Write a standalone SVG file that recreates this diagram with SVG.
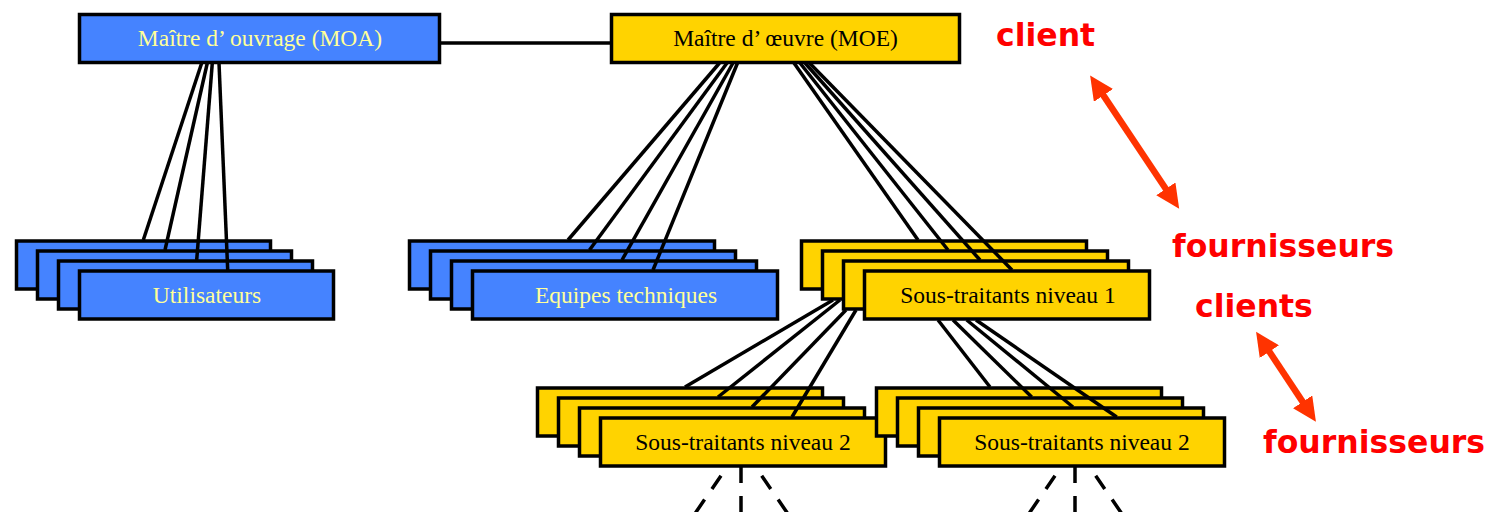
<svg xmlns="http://www.w3.org/2000/svg" width="1499" height="512" viewBox="0 0 1499 512">
<style>
.blue{fill:#4583FF;stroke:#000;stroke-width:3.5}
.yel{fill:#FFD300;stroke:#000;stroke-width:3.5}
.tb{font-family:"Liberation Serif",serif;font-size:23.5px;fill:#FFFF99;text-anchor:middle}
.ty{font-family:"Liberation Serif",serif;font-size:23.5px;fill:#000;text-anchor:middle}
.red{font-family:"DejaVu Sans",Verdana,sans-serif;font-weight:bold;font-size:31.5px;fill:#FF0000}
.ln{stroke:#000;stroke-width:3.5;fill:none}
.dash{stroke:#000;stroke-width:3.5;fill:none;stroke-dasharray:16 13}
.arr{stroke:#FF3300;stroke-width:6.5;fill:none;marker-start:url(#ah);marker-end:url(#ah)}
</style>
<defs>
<marker id="ah" markerUnits="userSpaceOnUse" viewBox="0 0 25 23" refX="1" refY="11.5" markerWidth="25" markerHeight="23" orient="auto-start-reverse">
<path d="M0,0 L24,11.5 L0,23 Z" fill="#FF3300"/>
</marker>
</defs>
<rect width="1499" height="512" fill="#fff"/>

<g id="moa">
<rect class="blue" x="79.5" y="14.5" width="360" height="48"/>
<text class="tb" x="260" y="46">Maître d’ ouvrage (MOA)</text>
</g>
<g id="moe">
<rect class="yel" x="611.5" y="14.5" width="348" height="48"/>
<text class="ty" x="785.5" y="46">Maître d’ œuvre (MOE)</text>
</g>

<g id="utilisateurs">
<rect class="blue" x="16.5" y="241" width="254" height="48"/>
<rect class="blue" x="37.5" y="251" width="254" height="48"/>
<rect class="blue" x="58.5" y="261" width="254" height="48"/>
<rect class="blue" x="79.5" y="271" width="254" height="48"/>
<text class="tb" x="207" y="302.5">Utilisateurs</text>
</g>

<g id="equipes">
<rect class="blue" x="409.5" y="241" width="305" height="48"/>
<rect class="blue" x="430.5" y="251" width="305" height="48"/>
<rect class="blue" x="451.5" y="261" width="305" height="48"/>
<rect class="blue" x="472.5" y="271" width="305" height="48"/>
<text class="tb" x="626" y="302.5">Equipes techniques</text>
</g>

<g id="st1">
<rect class="yel" x="801.5" y="241" width="285" height="48"/>
<rect class="yel" x="822.5" y="251" width="285" height="48"/>
<rect class="yel" x="843.5" y="261" width="285" height="48"/>
<rect class="yel" x="864.5" y="271" width="285" height="48"/>
<text class="ty" x="1008" y="302.5">Sous-traitants niveau 1</text>
</g>

<g id="st2a">
<rect class="yel" x="537.5" y="388" width="285" height="48"/>
<rect class="yel" x="558.5" y="398" width="285" height="48"/>
<rect class="yel" x="579.5" y="408" width="285" height="48"/>
<rect class="yel" x="600.5" y="418" width="285" height="48"/>
<text class="ty" x="743" y="449.5">Sous-traitants niveau 2</text>
</g>

<g id="st2b">
<rect class="yel" x="876.5" y="388" width="285" height="48"/>
<rect class="yel" x="897.5" y="398" width="285" height="48"/>
<rect class="yel" x="918.5" y="408" width="285" height="48"/>
<rect class="yel" x="939.5" y="418" width="285" height="48"/>
<text class="ty" x="1082" y="449.5">Sous-traitants niveau 2</text>
</g>

<g id="connectors">
<line class="ln" x1="440" y1="43" x2="610" y2="43"/>
<line class="ln" x1="201.7" y1="63" x2="143.3" y2="240"/>
<line class="ln" x1="207.3" y1="63" x2="165" y2="250"/>
<line class="ln" x1="212.3" y1="63" x2="196.7" y2="260"/>
<line class="ln" x1="219" y1="63" x2="227.7" y2="270"/>

<line class="ln" x1="719.5" y1="63" x2="568" y2="240"/>
<line class="ln" x1="727" y1="63" x2="589.5" y2="250"/>
<line class="ln" x1="733" y1="63" x2="622" y2="260"/>
<line class="ln" x1="737.5" y1="63" x2="653" y2="270"/>

<line class="ln" x1="794" y1="63" x2="918" y2="240"/>
<line class="ln" x1="800" y1="63" x2="948" y2="250"/>
<line class="ln" x1="805" y1="63" x2="980" y2="260"/>
<line class="ln" x1="809.5" y1="63" x2="1012" y2="270"/>

<line class="ln" x1="833" y1="300" x2="685" y2="387"/>
<line class="ln" x1="840" y1="300" x2="718" y2="397"/>
<line class="ln" x1="846" y1="310" x2="752" y2="407"/>
<line class="ln" x1="856" y1="310" x2="792" y2="417"/>

<line class="ln" x1="938" y1="320" x2="990" y2="387"/>
<line class="ln" x1="953" y1="320" x2="1031.7" y2="397"/>
<line class="ln" x1="966.7" y1="320" x2="1073" y2="407"/>
<line class="ln" x1="976" y1="320" x2="1116.7" y2="417"/>

<line class="dash" x1="741" y1="467" x2="741" y2="515"/>
<line class="dash" x1="721" y1="475.7" x2="694" y2="515"/>
<line class="dash" x1="761.7" y1="475.7" x2="788.7" y2="515"/>
<line class="dash" x1="1075" y1="467" x2="1075" y2="515"/>
<line class="dash" x1="1055" y1="475.7" x2="1028" y2="515"/>
<line class="dash" x1="1095.7" y1="475.7" x2="1122.7" y2="515"/>

<line class="arr" x1="1102.9" y1="94.6" x2="1166.4" y2="189.7"/>
<line class="arr" x1="1268.8" y1="350.8" x2="1303.2" y2="402.6"/>
</g>

<g id="labels">
<text class="red" x="996" y="46">client</text>
<text class="red" x="1172" y="257">fournisseurs</text>
<text class="red" x="1195" y="317">clients</text>
<text class="red" x="1263" y="453">fournisseurs</text>
</g>
</svg>
